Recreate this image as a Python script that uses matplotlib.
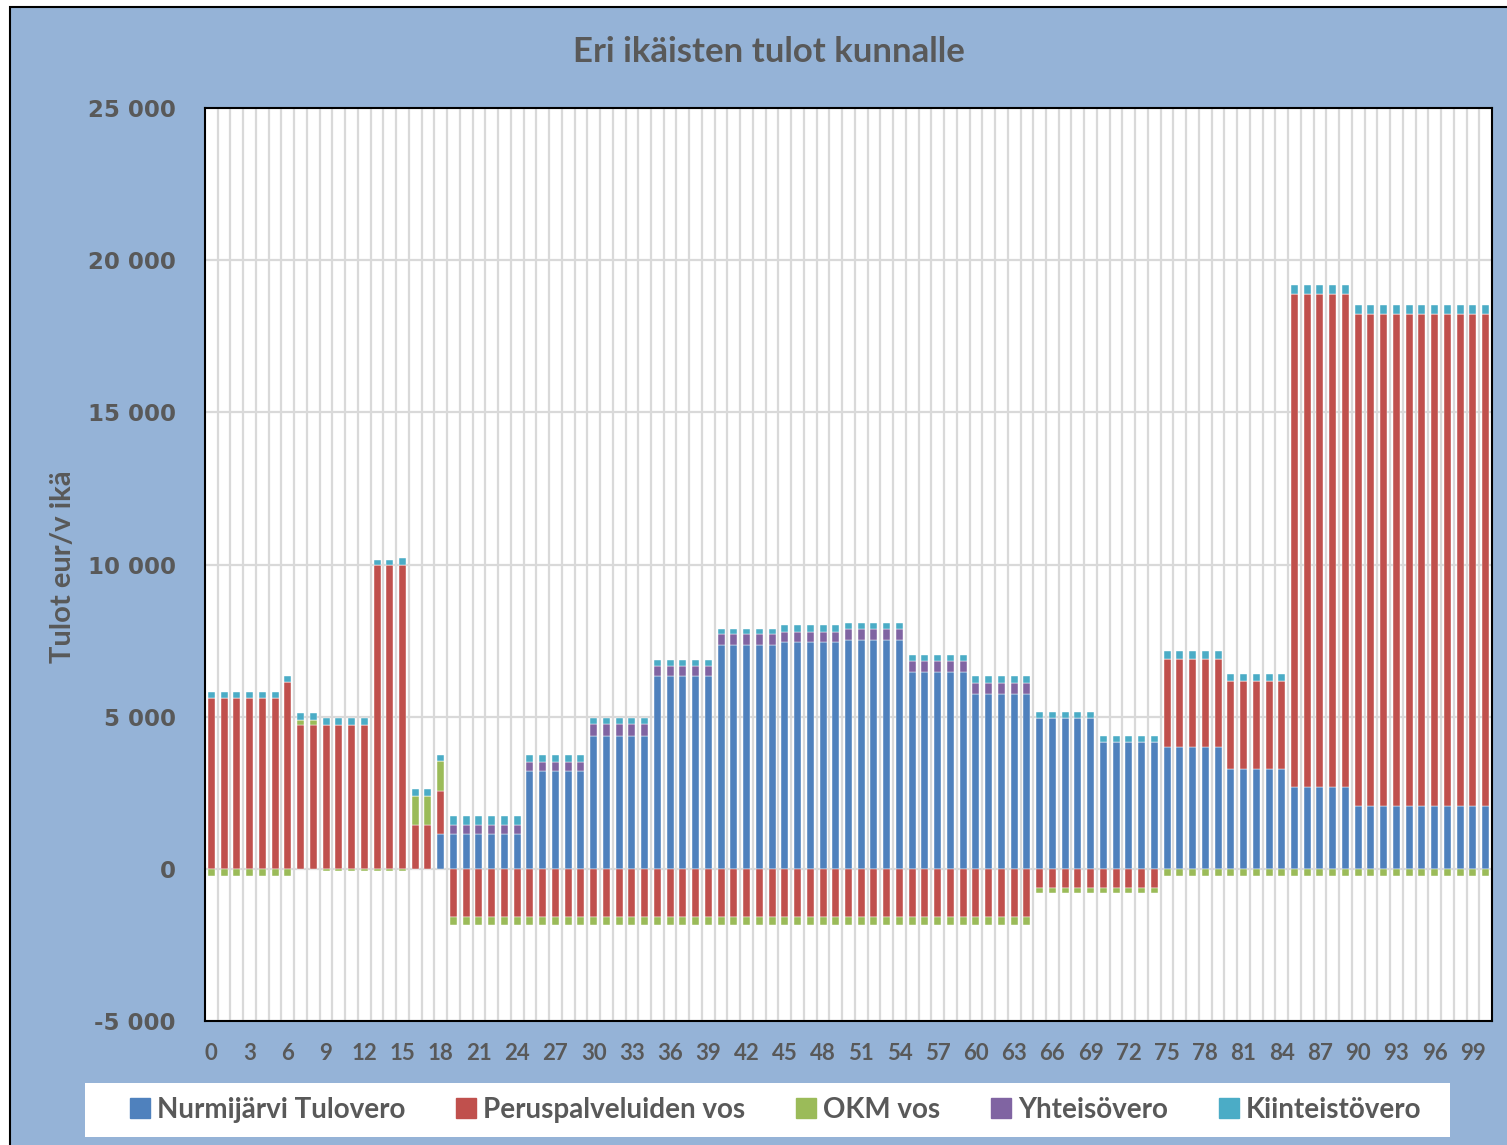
import matplotlib
matplotlib.use("Agg")
import matplotlib.pyplot as plt
import numpy as np
from matplotlib.patches import Rectangle
from matplotlib.lines import Line2D
from matplotlib.ticker import FuncFormatter

# ikä 0..100
ages = list(range(101))

tulovero = [
    0, 0, 0, 0, 0, 0, 0, 0, 0, 0,
    0, 0, 0, 0, 0, 0, 0, 0, 1130, 1140,
    1140, 1140, 1140, 1140, 1140, 3200, 3200, 3200, 3200, 3200,
    4380, 4380, 4380, 4380, 4380, 6320, 6320, 6320, 6320, 6320,
    7370, 7370, 7370, 7370, 7370, 7450, 7450, 7450, 7450, 7450,
    7520, 7520, 7520, 7520, 7520, 6460, 6460, 6460, 6460, 6460,
    5740, 5740, 5740, 5740, 5740, 4970, 4970, 4970, 4970, 4970,
    4180, 4180, 4180, 4180, 4180, 3990, 3990, 3990, 3990, 3990,
    3280, 3280, 3280, 3280, 3280, 2700, 2700, 2700, 2700, 2700,
    2050, 2050, 2050, 2050, 2050, 2050, 2050, 2050, 2050, 2050,
    2050,
]

peruspalvelut_vos = [
    5615, 5615, 5615, 5615, 5615, 5615, 6140, 4715, 4715, 4715,
    4715, 4715, 4715, 9970, 9970, 9970, 1440, 1440, 1430, -1590,
    -1590, -1590, -1590, -1590, -1590, -1590, -1590, -1590, -1590, -1590,
    -1590, -1590, -1590, -1590, -1590, -1590, -1590, -1590, -1590, -1590,
    -1590, -1590, -1590, -1590, -1590, -1590, -1590, -1590, -1590, -1590,
    -1590, -1590, -1590, -1590, -1590, -1590, -1590, -1590, -1590, -1590,
    -1590, -1590, -1590, -1590, -1590, -625, -625, -625, -625, -625,
    -625, -625, -625, -625, -625, 2910, 2910, 2910, 2910, 2910,
    2900, 2900, 2900, 2900, 2900, 16200, 16200, 16200, 16200, 16200,
    16190, 16190, 16190, 16190, 16190, 16190, 16190, 16190, 16190, 16190,
    16190,
]

okm_vos = [
    -235, -235, -235, -235, -235, -235, -235, 190, 190, -60,
    -60, -60, -60, -80, -80, -80, 940, 940, 980, -270,
    -270, -270, -270, -270, -270, -270, -270, -270, -270, -270,
    -270, -270, -270, -270, -270, -270, -270, -270, -270, -270,
    -270, -270, -270, -270, -270, -270, -270, -270, -270, -270,
    -270, -270, -270, -270, -270, -270, -270, -270, -270, -270,
    -270, -270, -270, -270, -270, -185, -185, -185, -185, -185,
    -185, -185, -185, -185, -185, -220, -220, -220, -220, -220,
    -220, -220, -220, -220, -220, -220, -220, -220, -220, -220,
    -220, -220, -220, -220, -220, -220, -220, -220, -220, -220,
    -220,
]

yhteisovero = [
    0, 0, 0, 0, 0, 0, 0, 0, 0, 0,
    0, 0, 0, 0, 0, 0, 0, 0, 0, 305,
    305, 305, 305, 305, 305, 320, 320, 320, 320, 320,
    380, 380, 380, 380, 380, 330, 330, 330, 330, 330,
    330, 330, 330, 330, 330, 320, 320, 320, 320, 320,
    370, 370, 370, 370, 370, 380, 380, 380, 380, 380,
    380, 380, 380, 380, 380, 0, 0, 0, 0, 0,
    0, 0, 0, 0, 0, 0, 0, 0, 0, 0,
    0, 0, 0, 0, 0, 0, 0, 0, 0, 0,
    0, 0, 0, 0, 0, 0, 0, 0, 0, 0,
    0,
]

kiinteistovero = [
    200, 200, 200, 200, 200, 200, 205, 210, 210, 250,
    250, 250, 250, 180, 180, 250, 235, 235, 210, 280,
    280, 280, 280, 280, 280, 220, 220, 220, 220, 220,
    210, 210, 210, 210, 210, 200, 200, 200, 200, 200,
    190, 190, 190, 190, 190, 250, 250, 250, 250, 250,
    200, 200, 200, 200, 200, 200, 200, 200, 200, 200,
    210, 210, 210, 210, 210, 180, 180, 180, 180, 180,
    200, 200, 200, 200, 200, 270, 270, 270, 270, 270,
    220, 220, 220, 220, 220, 280, 280, 280, 280, 280,
    290, 290, 290, 290, 290, 290, 290, 290, 290, 290,
    290,
]

series_names = ["Nurmijärvi Tulovero", "Peruspalveluiden vos", "OKM vos",
                "Yhteisövero", "Kiinteistövero"]
series_colors = ["#4F81BD", "#C0504D", "#9BBB59", "#8064A2", "#4BACC6"]

bg = "#95B3D7"
txt = "#595959"
grid = "#D9D9D9"

fig = plt.figure(figsize=(15.07, 11.45), dpi=100, facecolor="white")

# sininen kaavion tausta mustalla reunalla
fig.patches.append(Rectangle((10 / 1507, -0.05), 1.1, 1.05 - 7 / 1145,
                             transform=fig.transFigure, facecolor=bg,
                             edgecolor="black", linewidth=1.5, zorder=-10))

ax = fig.add_axes([205 / 1507, 124 / 1145, 1287 / 1507, 913 / 1145])
ax.set_facecolor("white")

x = np.array(ages)
pos_bottom = np.zeros(len(ages))
neg_bottom = np.zeros(len(ages))
data = [tulovero, peruspalvelut_vos, okm_vos, yhteisovero, kiinteistovero]
for vals, name, col in zip(data, series_names, series_colors):
    v = np.array(vals, dtype=float)
    bottom = np.where(v >= 0, pos_bottom, neg_bottom)
    ax.bar(x, v, width=0.55, bottom=bottom, color=col, label=name,
           edgecolor="white", linewidth=0.3, zorder=3)
    pos_bottom = pos_bottom + np.where(v > 0, v, 0)
    neg_bottom = neg_bottom + np.where(v < 0, v, 0)

ax.set_xlim(-0.5, 100.5)
ax.set_ylim(-5000, 25000)
ax.set_yticks(np.arange(-5000, 25001, 5000))
ax.yaxis.set_major_formatter(FuncFormatter(lambda v, p: f"{int(v):,}".replace(",", " ")))
ax.set_xticks(np.arange(0, 100, 3))
ax.set_xticks(np.arange(0.5, 100, 1), minor=True)

ax.grid(axis="y", which="major", color=grid, linewidth=1.6, zorder=1)
ax.grid(axis="x", which="minor", color=grid, linewidth=1.6, zorder=1)
ax.tick_params(axis="both", which="both", length=0)
ax.tick_params(axis="y", pad=21)
ax.tick_params(axis="x", pad=16)
for lab in ax.get_yticklabels():
    lab.set_fontfamily("DejaVu Sans")
    lab.set_fontweight("bold")
    lab.set_fontsize(16.5)
    lab.set_color(txt)
for lab in ax.get_xticklabels():
    lab.set_fontfamily("Lato")
    lab.set_fontweight("bold")
    lab.set_fontsize(16)
    lab.set_color(txt)

for s in ax.spines.values():
    s.set_color("black")
    s.set_linewidth(1.5)
    s.set_zorder(5)

fig.text(0.510, 0.955, "Eri ikäisten tulot kunnalle", ha="center", va="center",
         fontsize=25, fontweight="bold", color=txt, family="Lato")
fig.text(0.042, 0.505, "Tulot eur/v ikä", rotation=90, ha="center", va="center",
         fontsize=21, fontweight="bold", color=txt, family="Lato")

# legenda valkoisessa laatikossa
fig.patches.append(Rectangle((85 / 1507, 8 / 1145), 1365 / 1507, 54 / 1145,
                             transform=fig.transFigure, facecolor="white",
                             edgecolor="none", zorder=-5))
handles = [Line2D([0], [0], marker="s", linestyle="none", markersize=14,
                  markerfacecolor=c, markeredgecolor=c) for c in series_colors]
leg = fig.legend(handles, series_names, loc="center", ncol=5,
                 bbox_to_anchor=(775 / 1507, 35 / 1145), frameon=False,
                 handletextpad=0.2, columnspacing=1.8, handlelength=0.8,
                 prop={"family": "Lato", "weight": "bold", "size": 20})
for t in leg.get_texts():
    t.set_color(txt)

fig.savefig("out.png", dpi=100, facecolor=fig.get_facecolor())
